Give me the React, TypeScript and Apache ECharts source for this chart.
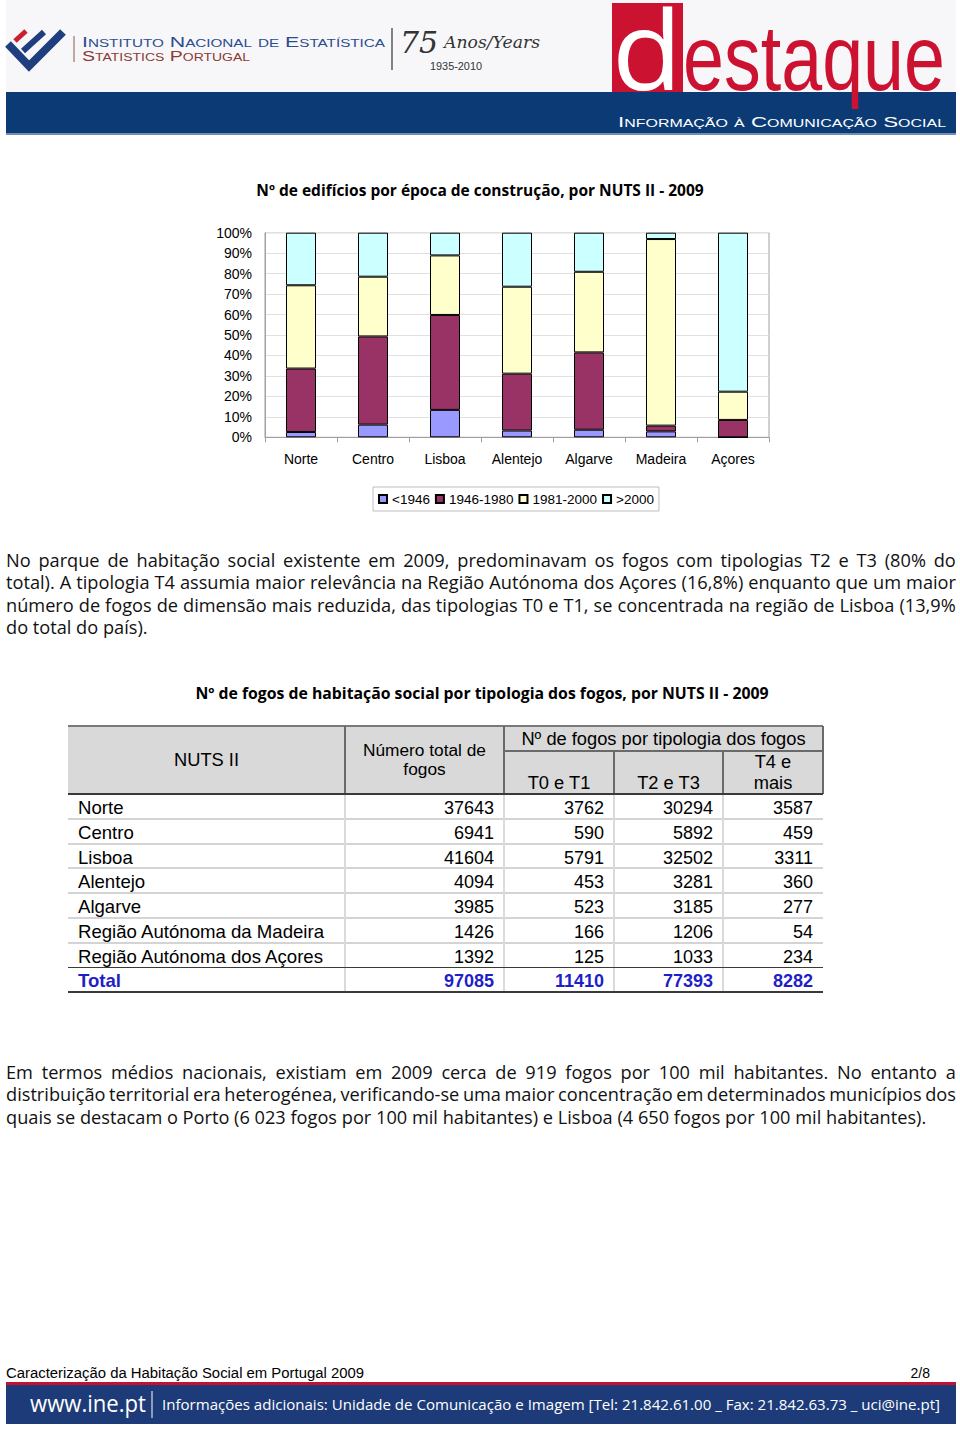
import React, { useEffect, useRef } from "react";
import * as echarts from "echarts";

// ---------- chart data ----------
const categories = ["Norte", "Centro", "Lisboa", "Alentejo", "Algarve", "Madeira", "Açores"];
const seriesNames = ["<1946", "1946-1980", "1981-2000", ">2000"];
const before1946 = [2.6, 6.2, 13.4, 3.3, 3.7, 2.9, 0];
const from1946to1980 = [31.0, 43.1, 46.4, 27.8, 37.8, 2.8, 8.5];
const from1981to2000 = [40.7, 29.2, 29.1, 42.5, 39.4, 91.2, 13.8];
const after2000 = [25.7, 21.5, 11.1, 26.4, 19.1, 3.1, 77.7];
const seriesColors = ["#9999FF", "#993366", "#FFFFCC", "#CCFFFF"];
const chartTitle = "Nº de edifícios por época de construção, por NUTS II - 2009";

// ---------- table data ----------
const tableTitle = "Nº de fogos de habitação social por tipologia dos fogos, por NUTS II - 2009";
const regions = [
  "Norte",
  "Centro",
  "Lisboa",
  "Alentejo",
  "Algarve",
  "Região Autónoma da Madeira",
  "Região Autónoma dos Açores",
];
const totalFogos = [37643, 6941, 41604, 4094, 3985, 1426, 1392];
const t0t1 = [3762, 590, 5791, 453, 523, 166, 125];
const t2t3 = [30294, 5892, 32502, 3281, 3185, 1206, 1033];
const t4mais = [3587, 459, 3311, 360, 277, 54, 234];
const totalRow = ["Total", 97085, 11410, 77393, 8282];

// ---------- text ----------
const para1 = [
  "No parque de habitação social existente em 2009, predominavam os fogos com tipologias T2 e T3 (80% do",
  "total). A tipologia T4 assumia maior relevância na Região Autónoma dos Açores (16,8%) enquanto que um maior",
  "número de fogos de dimensão mais reduzida, das tipologias T0 e T1, se concentrada na região de Lisboa (13,9%",
  "do total do país).",
];
const para2 = [
  "Em termos médios nacionais, existiam em 2009 cerca de 919 fogos por 100 mil habitantes. No entanto a",
  "distribuição territorial era heterogénea, verificando-se uma maior concentração em determinados municípios dos",
  "quais se destacam o Porto (6 023 fogos por 100 mil habitantes) e Lisboa (4 650 fogos por 100 mil habitantes).",
];

const BODY_FONT = "'Open Sans', 'Noto Sans', sans-serif";
const ARIAL = "'Liberation Sans', Arial, sans-serif";

function Line({ text, top, justify }: { text: string; top: number; justify: boolean }) {
  const words = text.split(" ");
  return (
    <div
      style={{
        position: "absolute",
        left: 6,
        top,
        width: 950,
        height: 22.5,
        lineHeight: "22.5px",
        fontFamily: BODY_FONT,
        fontSize: 18.2,
        color: "#111",
        whiteSpace: "pre",
        display: "flex",
        justifyContent: justify ? "space-between" : "flex-start",
      }}
    >
      {justify ? words.map((w, i) => <span key={i}>{w}</span>) : <span>{text}</span>}
    </div>
  );
}

function Header() {
  return (
    <svg width={960} height={140} style={{ position: "absolute", left: 0, top: 0 }}>
      <rect x={6} y={0} width={950} height={92} fill="#F7F7F9" />
      {/* INE logo */}
      <polyline points="8,44 29,66 63,32" stroke="#1F3E7E" strokeWidth={8} fill="none" />
      <line x1={23} y1={51} x2={44} y2={32} stroke="#1F3E7E" strokeWidth={6} />
      <line x1={15} y1={41} x2={26} y2={31} stroke="#C8202F" strokeWidth={5} />
      <line x1={74} y1={36} x2={74} y2={62} stroke="#8A5A4A" strokeWidth={1} />
      <text
        x={82}
        y={47}
        fontSize={14}
        fill="#2B4C8F"
        fontFamily={ARIAL}
        style={{ fontVariant: "small-caps" }}
        textLength={303}
        lengthAdjust="spacingAndGlyphs"
      >
        Instituto Nacional de Estatística
      </text>
      <text
        x={82}
        y={61}
        fontSize={14}
        fill="#8A3B32"
        fontFamily={ARIAL}
        style={{ fontVariant: "small-caps" }}
        textLength={168}
        lengthAdjust="spacingAndGlyphs"
      >
        Statistics Portugal
      </text>
      <line x1={392} y1={28} x2={392} y2={70} stroke="#333" strokeWidth={1.2} />
      <text x={400} y={53} fontSize={30} fill="#333" fontFamily="'DejaVu Serif', serif" fontStyle="italic">
        75
      </text>
      <text x={444} y={48} fontSize={17} fill="#333" fontFamily="'DejaVu Serif', serif" fontStyle="italic" textLength={96} lengthAdjust="spacingAndGlyphs">
        Anos/Years
      </text>
      <text x={430} y={70} fontSize={10} fill="#333" fontFamily={ARIAL} textLength={52} lengthAdjust="spacingAndGlyphs">
        1935-2010
      </text>
      {/* destaque */}
      <rect x={612} y={3} width={71} height={89} fill="#CC1231" />
      <text x={612} y={90} fontSize={110} fill="#FFFFFF" fontFamily={BODY_FONT} textLength={70} lengthAdjust="spacingAndGlyphs">
        d
      </text>
      <rect x={6} y={92} width={950} height={42} fill="#0B3A74" />
      <rect x={6} y={133} width={950} height={2} fill="#6F8DB8" />
      <text
        x={683}
        y={90}
        fontSize={92}
        fill="#CC1231"
        fontFamily={ARIAL}
        textLength={262}
        lengthAdjust="spacingAndGlyphs"
      >
        estaque
      </text>
      <text
        x={618}
        y={127}
        fontSize={14}
        fill="#FFFFFF"
        fontFamily={ARIAL}
        style={{ fontVariant: "small-caps" }}
        textLength={328}
        lengthAdjust="spacingAndGlyphs"
      >
        Informação à Comunicação Social
      </text>
    </svg>
  );
}

function Footer() {
  return (
    <svg width={960} height={72} style={{ position: "absolute", left: 0, top: 1360 }}>
      <text x={6} y={18} fontSize={14} fill="#000" fontFamily={ARIAL} textLength={358} lengthAdjust="spacingAndGlyphs">
        Caracterização da Habitação Social em Portugal 2009
      </text>
      <text x={930} y={18} fontSize={14} fill="#000" fontFamily={ARIAL} textAnchor="end">
        2/8
      </text>
      <rect x={6} y={22} width={950} height={3} fill="#C8102E" />
      <rect x={6} y={25} width={950} height={39} fill="#1D3B78" />
      <text x={30} y={52} fontSize={23} fill="#FFFFFF" fontFamily={BODY_FONT} textLength={116} lengthAdjust="spacingAndGlyphs">
        www.ine.pt
      </text>
      <line x1={152} y1={31} x2={152} y2={58} stroke="#FFFFFF" strokeWidth={1} />
      <text x={162} y={50} fontSize={15} fill="#FFFFFF" fontFamily={BODY_FONT} textLength={778} lengthAdjust="spacingAndGlyphs">
        Informações adicionais: Unidade de Comunicação e Imagem [Tel: 21.842.61.00 _ Fax: 21.842.63.73 _ uci@ine.pt]
      </text>
    </svg>
  );
}

const cols = [68, 345, 504, 614, 723, 823];
const ROW0 = 794;
const ROWH = 24.75;

function Table() {
  const els: any[] = [];
  const hdrFont = { fontFamily: ARIAL, fontSize: 18.3, color: "#000", position: "absolute" as const, textAlign: "center" as const };
  els.push(<div key="hbg" style={{ position: "absolute", left: cols[0], top: 726, width: cols[5] - cols[0], height: ROW0 - 726, background: "#D9D9D9" }} />);
  const hline = (k: string, x1: number, x2: number, y: number, c: string, w: number) =>
    els.push(<div key={k} style={{ position: "absolute", left: x1, top: y - w / 2, width: x2 - x1, height: w, background: c }} />);
  const vline = (k: string, x: number, y1: number, y2: number, c: string, w: number) =>
    els.push(<div key={k} style={{ position: "absolute", left: x - w / 2, top: y1, width: w, height: y2 - y1, background: c }} />);
  const allRows = regions.length + 1;
  for (let i = 1; i < allRows - 1; i++) hline("h" + i, cols[0], cols[5], ROW0 + i * ROWH, "#D4D4D4", 2);
  for (let c = 1; c < 5; c++) vline("v" + c, cols[c], ROW0, ROW0 + allRows * ROWH, "#DADADA", 1.5);
  hline("ht", cols[0], cols[5], 726, "#7A7A7A", 1.5);
  hline("hm", cols[2], cols[5], 751, "#6A6A6A", 1.5);
  vline("hv1", cols[1], 726, ROW0, "#6A6A6A", 1.5);
  vline("hv2", cols[2], 726, ROW0, "#6A6A6A", 1.5);
  vline("hv3", cols[3], 751, ROW0, "#6A6A6A", 1.5);
  vline("hv4", cols[4], 751, ROW0, "#6A6A6A", 1.5);
  vline("hv5", cols[5], 726, ROW0, "#6A6A6A", 1.5);
  hline("hb", cols[0], cols[5], ROW0, "#3A3A3A", 2);
  hline("tt", cols[0], cols[5], ROW0 + (allRows - 1) * ROWH, "#3A3A3A", 1.5);
  hline("tb", cols[0], cols[5], ROW0 + allRows * ROWH, "#3A3A3A", 1.5);
  els.push(<div key="t0" style={{ ...hdrFont, left: cols[0], width: cols[1] - cols[0], top: 749, lineHeight: "22px" }}>NUTS II</div>);
  els.push(
    <div key="t1" style={{ ...hdrFont, fontSize: 17.3, left: cols[1], width: cols[2] - cols[1], top: 741, lineHeight: "19px" }}>
      Número total de
      <br />
      fogos
    </div>
  );
  els.push(<div key="t2" style={{ ...hdrFont, left: cols[2], width: cols[5] - cols[2], top: 728, lineHeight: "22px" }}>Nº de fogos por tipologia dos fogos</div>);
  els.push(<div key="t3" style={{ ...hdrFont, left: cols[2], width: cols[3] - cols[2], top: 772, lineHeight: "22px" }}>T0 e T1</div>);
  els.push(<div key="t4" style={{ ...hdrFont, left: cols[3], width: cols[4] - cols[3], top: 772, lineHeight: "22px" }}>T2 e T3</div>);
  els.push(
    <div key="t5" style={{ ...hdrFont, left: cols[4], width: cols[5] - cols[4], top: 751, lineHeight: "21px" }}>
      T4 e
      <br />
      mais
    </div>
  );
  const rows: any[][] = regions.map((r, i) => [r, totalFogos[i], t0t1[i], t2t3[i], t4mais[i]]);
  rows.push(totalRow);
  rows.forEach((row, i) => {
    const isTotal = i === rows.length - 1;
    row.forEach((v, c) => {
      els.push(
        <div
          key={"c" + i + "_" + c}
          style={{
            position: "absolute",
            left: cols[c] + 10,
            width: cols[c + 1] - cols[c] - 20,
            top: ROW0 + i * ROWH + 2,
            height: ROWH,
            lineHeight: ROWH + "px",
            fontFamily: ARIAL,
            fontSize: c === 0 ? 18.6 : 18,
            textAlign: c === 0 ? "left" : "right",
            color: isTotal ? "#1F1FC8" : "#000",
            fontWeight: isTotal ? "bold" : "normal",
            whiteSpace: "nowrap",
          }}
        >
          {String(v)}
        </div>
      );
    });
  });
  return <>{els}</>;
}

function Chart() {
  const ref = useRef<HTMLDivElement>(null);
  useEffect(() => {
    if (!ref.current) return;
    const chart = echarts.init(ref.current, null, { renderer: "svg" });
    const values = [before1946, from1946to1980, from1981to2000, after2000];
    chart.setOption({
      animation: false,
      backgroundColor: "transparent",
      title: {
        text: chartTitle,
        left: "center",
        top: 17,
        textStyle: { fontFamily: BODY_FONT, fontSize: 15.5, fontWeight: "bold", color: "#000" },
      },
      legend: {
        left: 373,
        top: 327,
        padding: [5, 5, 5, 5],
        itemWidth: 8,
        itemHeight: 8,
        itemGap: 5,
        icon: "rect",
        borderColor: "#BDBDBD",
        borderWidth: 1,
        backgroundColor: "#FFFFFF",
        textStyle: { fontFamily: ARIAL, fontSize: 13.5, color: "#000" },
        data: seriesNames,
      },
      grid: { left: 265, top: 72.7, width: 504, height: 204.6, show: true, borderColor: "#A0A0A0", borderWidth: 1 },
      xAxis: {
        type: "category",
        data: categories,
        axisLine: { lineStyle: { color: "#A0A0A0" } },
        axisTick: { show: true, length: 5, lineStyle: { color: "#A0A0A0" } },
        axisLabel: { fontFamily: ARIAL, fontSize: 14, color: "#000", margin: 15 },
      },
      yAxis: {
        type: "value",
        min: 0,
        max: 100,
        interval: 10,
        axisLine: { show: true, lineStyle: { color: "#A0A0A0" } },
        axisTick: { show: false },
        splitLine: { lineStyle: { color: "#E0E0E0" } },
        axisLabel: { formatter: "{value}%", fontFamily: ARIAL, fontSize: 14, color: "#000", margin: 13 },
      },
      series: seriesNames.map((name, i) => ({
        name,
        type: "bar",
        stack: "total",
        barWidth: 30,
        data: values[i],
        itemStyle: { color: seriesColors[i], borderColor: "#000", borderWidth: 1 },
      })),
    });
    return () => chart.dispose();
  }, []);
  return <div ref={ref} style={{ position: "absolute", left: 0, top: 160, width: 960, height: 370 }} />;
}

export default function App() {
  return (
    <div style={{ position: "absolute", left: 0, top: 0, width: 960, height: 1432, background: "#FFFFFF", overflow: "hidden" }}>
      <Header />
      <Chart />
      {para1.map((t, i) => (
        <Line key={"p1" + i} text={t} top={548.75 + i * 22.5} justify={i < para1.length - 1} />
      ))}
      <div
        style={{
          position: "absolute",
          left: 0,
          width: 960,
          top: 681,
          textAlign: "center",
          fontFamily: BODY_FONT,
          fontSize: 15.8,
          fontWeight: "bold",
          lineHeight: "24px",
          color: "#000",
          paddingLeft: 2,
        }}
      >
        {tableTitle}
      </div>
      <Table />
      {para2.map((t, i) => (
        <Line key={"p2" + i} text={t} top={1060.75 + i * 22.5} justify={i < para2.length - 1} />
      ))}
      <Footer />
    </div>
  );
}
